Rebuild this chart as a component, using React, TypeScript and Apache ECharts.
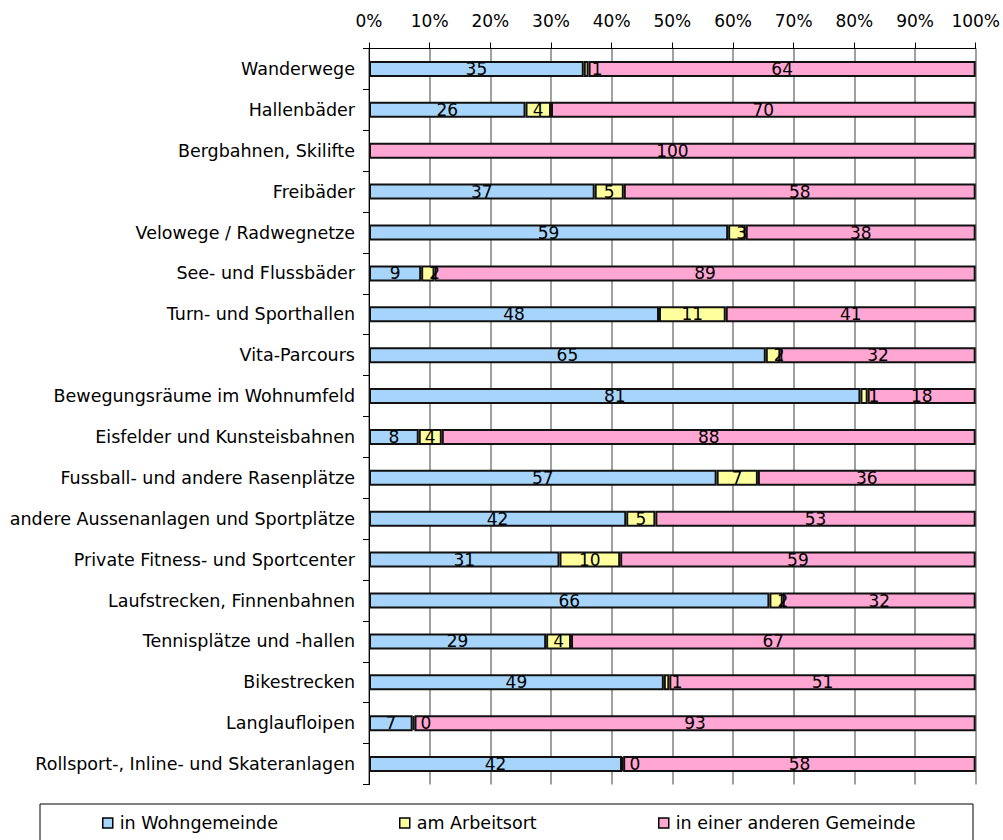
import React, { useEffect, useRef } from "react";
import * as echarts from "echarts";

const categories = [
  "Wanderwege",
  "Hallenbäder",
  "Bergbahnen, Skilifte",
  "Freibäder",
  "Velowege / Radwegnetze",
  "See- und Flussbäder",
  "Turn- und Sporthallen",
  "Vita-Parcours",
  "Bewegungsräume im Wohnumfeld",
  "Eisfelder und Kunsteisbahnen",
  "Fussball- und andere Rasenplätze",
  "andere Aussenanlagen und Sportplätze",
  "Private Fitness- und Sportcenter",
  "Laufstrecken, Finnenbahnen",
  "Tennisplätze und -hallen",
  "Bikestrecken",
  "Langlaufloipen",
  "Rollsport-, Inline- und Skateranlagen",
];

const wohngemeinde: (number | null)[] = [35.4, 25.8, null, 37.2, 59.2, 8.6, 47.8, 65.4, 81.0, 8.2, 57.3, 42.4, 31.4, 66.0, 29.2, 48.6, 7.2, 41.7];
const arbeitsort: (number | null)[] = [0.8, 4.2, null, 4.8, 2.9, 2.2, 11.0, 2.4, 1.2, 3.8, 6.8, 4.8, 10.0, 2.2, 4.1, 0.9, 0.3, 0.2];
const andereGemeinde: (number | null)[] = [63.8, 70.0, 100, 58.0, 37.9, 89.2, 41.2, 32.2, 17.8, 88.0, 35.9, 52.8, 58.6, 31.8, 66.7, 50.5, 92.5, 58.1];

const seriesNames = ["in Wohngemeinde", "am Arbeitsort", "in einer anderen Gemeinde"];
const seriesColors = ["#A6D4FA", "#FFFF9E", "#FFA6D3"];
const xTicks = [0, 10, 20, 30, 40, 50, 60, 70, 80, 90, 100];

const FONT = "DejaVu Sans, Verdana, sans-serif";

function buildData(values: (number | null)[]) {
  return values.map((v) => {
    if (v === null) return null;
    if (v < 3) {
      return { value: v, label: { position: "insideLeft", distance: 8 } };
    }
    return v;
  });
}

export default function App() {
  const ref = useRef<HTMLDivElement>(null);

  useEffect(() => {
    document.body.style.margin = "0";
    if (!ref.current) return;
    const chart = echarts.init(ref.current, null, { renderer: "svg" });
    const valueSets = [wohngemeinde, arbeitsort, andereGemeinde];
    const legendLefts = [97, 394, 653];

    const option: any = {
      animation: false,
      textStyle: { fontFamily: FONT },
      grid: { left: 369, right: 27, top: 48.5, bottom: 55.5, containLabel: false },
      xAxis: {
        type: "value",
        position: "top",
        min: xTicks[0],
        max: xTicks[xTicks.length - 1],
        interval: 10,
        axisLine: { show: true, lineStyle: { color: "#000", width: 1 } },
        axisTick: { show: true, length: 6, lineStyle: { color: "#000" } },
        axisLabel: { formatter: "{value}%", color: "#000", fontSize: 17, margin: 19, fontFamily: FONT },
        splitLine: { show: true, lineStyle: { color: "#808080", width: 1.5 } },
      },
      yAxis: {
        type: "category",
        data: categories,
        inverse: true,
        axisLine: { show: true, lineStyle: { color: "#000", width: 1 } },
        axisTick: { show: true, length: 6, lineStyle: { color: "#000" } },
        axisLabel: { color: "#000", fontSize: 17.5, margin: 14, fontFamily: FONT },
        splitLine: { show: false },
      },
      legend: seriesNames.map((name, i) => ({
        data: [name],
        left: legendLefts[i],
        top: 809,
        orient: "horizontal",
        icon: "rect",
        itemWidth: 10,
        itemHeight: 10,
        itemStyle: { borderColor: "#000", borderWidth: 1.5 },
        textStyle: { color: "#000", fontSize: 17.5, fontFamily: FONT, padding: [0, 0, 0, 2] },
        selectedMode: false,
      })),
      graphic: [
        {
          type: "rect",
          shape: { x: 40, y: 804, width: 933, height: 60 },
          style: { fill: "none", stroke: "#000", lineWidth: 1 },
          silent: true,
        },
      ],
      series: seriesNames.map((name, i) => ({
        name,
        type: "bar",
        stack: "total",
        barWidth: 16,
        data: buildData(valueSets[i]),
        itemStyle: { color: seriesColors[i], borderColor: "#111", borderWidth: 2 },
        label: {
          show: true,
          position: "inside",
          color: "#000",
          fontSize: 17,
          fontFamily: FONT,
          formatter: (p: any) => String(Math.round(p.value)),
        },
      })),
    };

    chart.setOption(option);
    return () => chart.dispose();
  }, []);

  return <div ref={ref} style={{ width: 1003, height: 840 }} />;
}
